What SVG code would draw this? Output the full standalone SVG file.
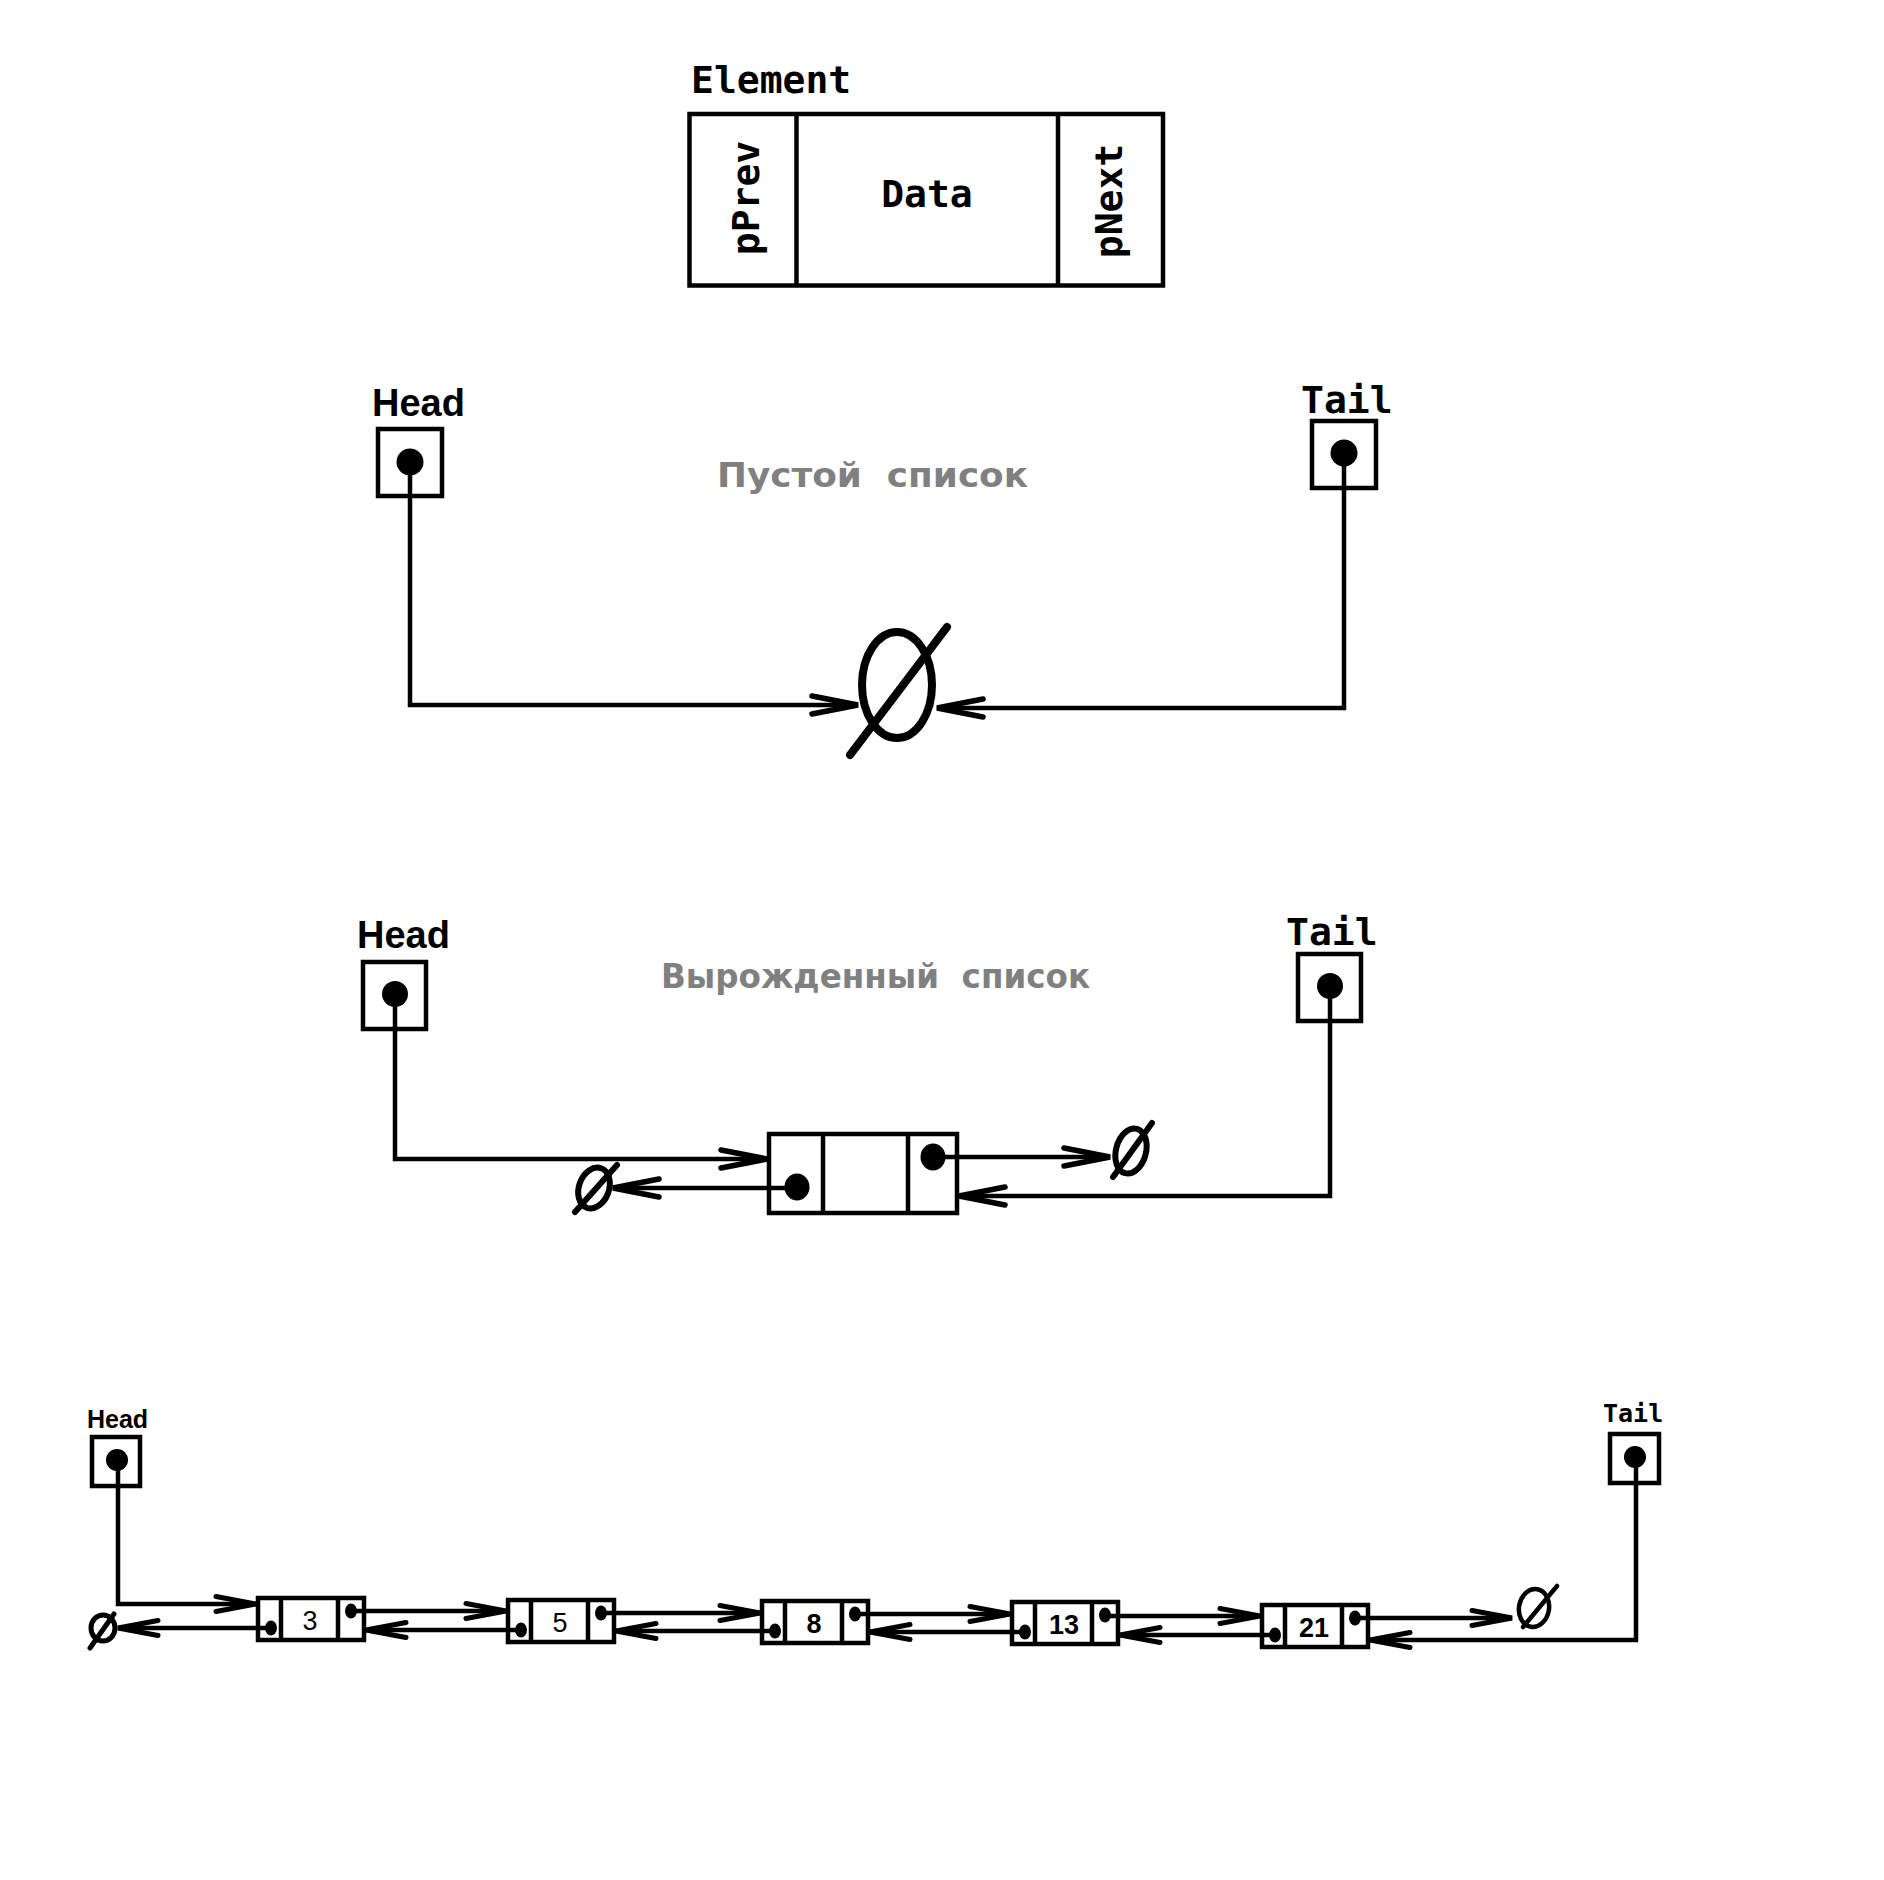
<svg xmlns="http://www.w3.org/2000/svg" width="1884" height="1880" viewBox="0 0 1884 1880">
<defs>
<style>
.box{fill:none;stroke:#000;stroke-width:4.5}
.nbox{fill:none;stroke:#000;stroke-width:4.5}
.div{stroke:#000;stroke-width:4.5}
.ndiv{stroke:#000;stroke-width:4.5}
.wire{fill:none;stroke:#000;stroke-width:4.5;stroke-linecap:butt;stroke-linejoin:miter}
.big{marker-end:url(#arrowBig)}
.small{marker-end:url(#arrowSmall)}
.dot{fill:#000}
.mono{font-family:"DejaVu Sans Mono","Liberation Mono",monospace;font-weight:bold;fill:#000}
.sans{font-family:"Liberation Sans",Arial,sans-serif;font-weight:bold;fill:#000}
.gray{font-family:"DejaVu Sans",Verdana,sans-serif;font-weight:bold;font-size:34px;fill:#808080}
.null{fill:none;stroke:#000;stroke-linecap:round}
.num{font-family:"Liberation Sans",Arial,sans-serif;font-size:27px;text-anchor:middle;fill:#000}
</style>
<marker id="arrowBig" markerUnits="userSpaceOnUse" markerWidth="60" markerHeight="30" refX="0" refY="0" orient="auto" overflow="visible">
<path d="M-46,-9 L0,0 L-46,9" fill="none" stroke="#000" stroke-width="5.5" stroke-linecap="round"/>
</marker>
<marker id="arrowSmall" markerUnits="userSpaceOnUse" markerWidth="50" markerHeight="24" refX="0" refY="0" orient="auto" overflow="visible">
<path d="M-40,-7.5 L0,0 L-40,7.5" fill="none" stroke="#000" stroke-width="5" stroke-linecap="round"/>
</marker>
</defs>
<rect width="1884" height="1880" fill="#fff"/>

<!-- Element structure -->
<g id="element">
<text class="mono" x="691" y="93" font-size="38">Element</text>
<rect class="box" x="689.5" y="114" width="473.5" height="171.5"/>
<line class="div" x1="796.5" y1="114" x2="796.5" y2="285.5"/>
<line class="div" x1="1058" y1="114" x2="1058" y2="285.5"/>
<text class="mono" font-size="38" text-anchor="middle" transform="translate(759,198) rotate(-90)">pPrev</text>
<text class="mono" font-size="38" text-anchor="middle" x="927" y="207">Data</text>
<text class="mono" font-size="38" text-anchor="middle" transform="translate(1122,201) rotate(-90)">pNext</text>
</g>

<!-- Section: empty list -->
<g id="empty-head">
<text class="sans" x="372" y="416" font-size="38">Head</text>
<rect class="box" x="378" y="429" width="64" height="67"/>
<circle class="dot" cx="410" cy="462" r="13.5"/>
</g>
<g id="empty-tail">
<text class="mono" x="1301" y="413" font-size="38">Tail</text>
<rect class="box" x="1312" y="421" width="64" height="67"/>
<circle class="dot" cx="1344" cy="453" r="13.5"/>
</g>
<text class="gray" x="717" y="487" textLength="311" lengthAdjust="spacingAndGlyphs" xml:space="preserve">Пустой  список</text>
<g id="empty-null">
<ellipse class="null" cx="897" cy="685" rx="35" ry="53" stroke-width="8"/>
<line class="null" x1="850" y1="755" x2="947" y2="627" stroke-width="8"/>
</g>

<!-- Section: degenerate list -->
<g id="deg-head">
<text class="sans" x="357" y="948" font-size="38">Head</text>
<rect class="box" x="363" y="962" width="63" height="67"/>
<circle class="dot" cx="395" cy="994" r="13"/>
</g>
<g id="deg-tail">
<text class="mono" x="1286" y="945" font-size="38">Tail</text>
<rect class="box" x="1298" y="954" width="63" height="67"/>
<circle class="dot" cx="1330" cy="986" r="13"/>
</g>
<text class="gray" x="661" y="988" textLength="429" lengthAdjust="spacingAndGlyphs" xml:space="preserve">Вырожденный  список</text>
<g id="deg-node">
<rect class="box" x="769" y="1134" width="188" height="79"/>
<line class="div" x1="823" y1="1134" x2="823" y2="1213"/>
<line class="div" x1="908" y1="1134" x2="908" y2="1213"/>
<ellipse class="dot" cx="797" cy="1187" rx="12.5" ry="13.5"/>
<ellipse class="dot" cx="933" cy="1157" rx="12.5" ry="13.5"/>
</g>
<g id="deg-null-left">
<ellipse class="null" cx="594" cy="1188" rx="15" ry="21" stroke-width="6" transform="rotate(20 594 1188)"/>
<line class="null" x1="575" y1="1212" x2="617" y2="1165" stroke-width="6"/>
</g>
<g id="deg-null-right">
<ellipse class="null" cx="1131" cy="1151" rx="15" ry="23" stroke-width="6" transform="rotate(15 1131 1151)"/>
<line class="null" x1="1113" y1="1177" x2="1152" y2="1123" stroke-width="6"/>
</g>

<!-- Section: full list -->
<g id="list-head">
<text class="sans" x="87" y="1428" font-size="25">Head</text>
<rect class="nbox" x="92" y="1437" width="48" height="49"/>
<circle class="dot" cx="117" cy="1460" r="11"/>
</g>
<g id="list-tail">
<text class="mono" x="1603" y="1422" font-size="25">Tail</text>
<rect class="nbox" x="1610" y="1434" width="49" height="49"/>
<circle class="dot" cx="1635" cy="1457" r="11"/>
</g>
<g id="node-3" transform="translate(258,1598)">
<rect class="nbox" width="106" height="42"/>
<line class="ndiv" x1="23" y1="0" x2="23" y2="42"/>
<line class="ndiv" x1="80" y1="0" x2="80" y2="42"/>
<ellipse class="dot" cx="13" cy="30" rx="6" ry="7.5"/>
<ellipse class="dot" cx="93" cy="13" rx="6" ry="7.5"/>
<text class="num" x="52" y="32">3</text>
</g>
<g id="node-5" transform="translate(508,1600)">
<rect class="nbox" width="106" height="42"/>
<line class="ndiv" x1="23" y1="0" x2="23" y2="42"/>
<line class="ndiv" x1="80" y1="0" x2="80" y2="42"/>
<ellipse class="dot" cx="13" cy="30" rx="6" ry="7.5"/>
<ellipse class="dot" cx="93" cy="13" rx="6" ry="7.5"/>
<text class="num" x="52" y="32">5</text>
</g>
<g id="node-8" transform="translate(762,1601)">
<rect class="nbox" width="106" height="42"/>
<line class="ndiv" x1="23" y1="0" x2="23" y2="42"/>
<line class="ndiv" x1="80" y1="0" x2="80" y2="42"/>
<ellipse class="dot" cx="13" cy="30" rx="6" ry="7.5"/>
<ellipse class="dot" cx="93" cy="13" rx="6" ry="7.5"/>
<text class="num" x="52" y="32" font-weight="bold">8</text>
</g>
<g id="node-13" transform="translate(1012,1602)">
<rect class="nbox" width="106" height="42"/>
<line class="ndiv" x1="23" y1="0" x2="23" y2="42"/>
<line class="ndiv" x1="80" y1="0" x2="80" y2="42"/>
<ellipse class="dot" cx="13" cy="30" rx="6" ry="7.5"/>
<ellipse class="dot" cx="93" cy="13" rx="6" ry="7.5"/>
<text class="num" x="52" y="32" font-weight="bold">13</text>
</g>
<g id="node-21" transform="translate(1262,1605)">
<rect class="nbox" width="106" height="42"/>
<line class="ndiv" x1="23" y1="0" x2="23" y2="42"/>
<line class="ndiv" x1="80" y1="0" x2="80" y2="42"/>
<ellipse class="dot" cx="13" cy="30" rx="6" ry="7.5"/>
<ellipse class="dot" cx="93" cy="13" rx="6" ry="7.5"/>
<text class="num" x="52" y="32" font-weight="bold">21</text>
</g>
<g id="list-null-left">
<ellipse class="null" cx="103" cy="1628" rx="12" ry="13" stroke-width="5"/>
<line class="null" x1="90" y1="1648" x2="114" y2="1614" stroke-width="5"/>
</g>
<g id="list-null-right">
<ellipse class="null" cx="1534" cy="1608" rx="15" ry="19" stroke-width="4.5" transform="rotate(10 1534 1608)"/>
<line class="null" x1="1523" y1="1627" x2="1557" y2="1586" stroke-width="4.5"/>
</g>

<!-- Connectors -->
<g id="connectors">
<path class="wire big" d="M410,462 V705 H858"/>
<path class="wire big" d="M1344,453 V708 H937"/>
<path class="wire big" d="M395,994 V1159 H767"/>
<path class="wire big" d="M797,1188 H613"/>
<path class="wire big" d="M933,1157 H1110"/>
<path class="wire big" d="M1330,986 V1196 H959"/>
<path class="wire small" d="M118,1460 V1604 H256"/>
<path class="wire small" d="M271,1628 H118"/>
<path class="wire small" d="M351,1611 H506"/>
<path class="wire small" d="M521,1630 H366"/>
<path class="wire small" d="M601,1613 H760"/>
<path class="wire small" d="M775,1631 H616"/>
<path class="wire small" d="M855,1614 H1010"/>
<path class="wire small" d="M1025,1632 H870"/>
<path class="wire small" d="M1105,1616 H1260"/>
<path class="wire small" d="M1275,1635 H1120"/>
<path class="wire small" d="M1355,1618 H1512"/>
<path class="wire small" d="M1636,1457 V1640 H1370"/>
</g>
</svg>
